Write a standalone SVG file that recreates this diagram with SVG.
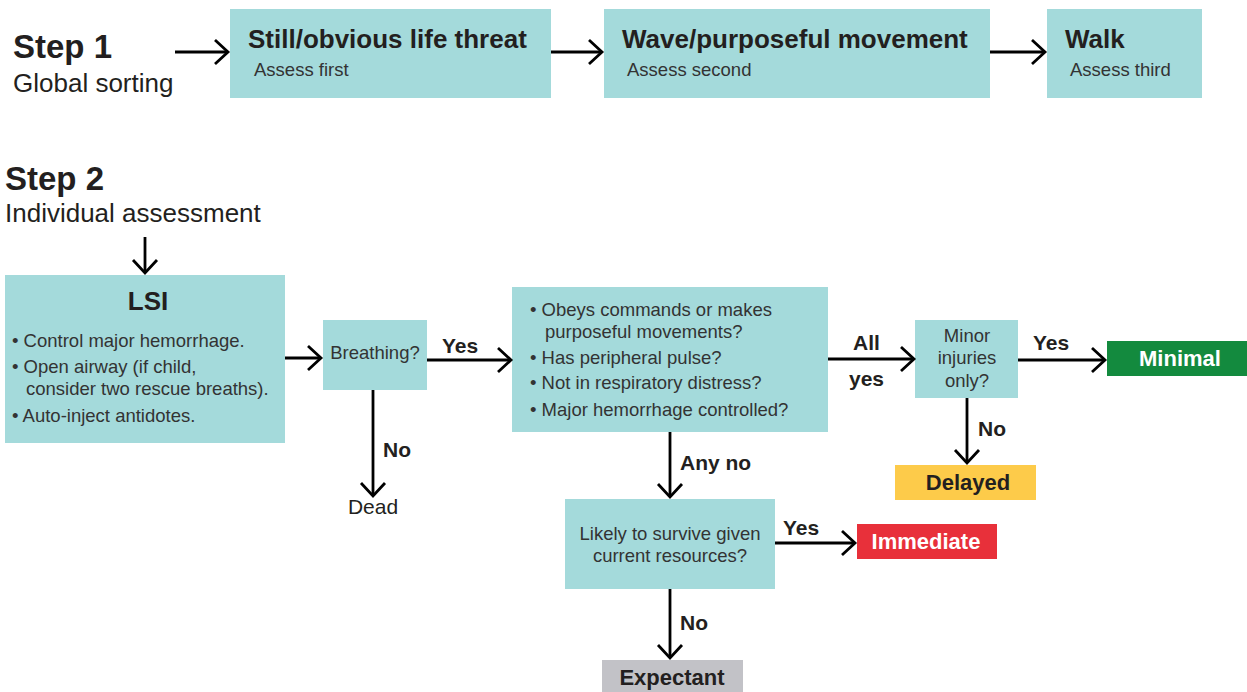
<svg xmlns="http://www.w3.org/2000/svg" width="1247" height="692" viewBox="0 0 1247 692">
<style>
.box{fill:#a4dadb}
.t{font-family:"Liberation Sans",Arial,sans-serif;fill:#231f20}
.h{font-size:26px;font-weight:bold}
.s{font-size:18.5px;fill:#333}
.step{font-size:33px;font-weight:bold}
.sub{font-size:26px}
.lbl{font-size:21px;font-weight:bold}
.out{font-size:22px;font-weight:bold}
.c{text-anchor:middle}
.ln{stroke:#000;stroke-width:2.8;fill:none;marker-end:url(#ah)}
</style>
<defs>
<marker id="ah" markerUnits="userSpaceOnUse" markerWidth="20" markerHeight="30" refX="15" refY="14" orient="auto">
<path d="M2,2 L15,14 L2,26" fill="none" stroke="#000" stroke-width="2.8"/>
</marker>
</defs>
<rect width="1247" height="692" fill="#fff"/>
<g id="step1-label">
<text class="t step" x="13" y="58">Step 1</text>
<text class="t sub" x="13" y="92">Global sorting</text>
</g>
<g id="still">
<rect class="box" x="230" y="9" width="321" height="89"/>
<text class="t h" x="248" y="48">Still/obvious life threat</text>
<text class="t s" x="254" y="76">Assess first</text>
</g>
<g id="wave">
<rect class="box" x="604" y="9" width="386" height="89"/>
<text class="t h" x="622" y="48">Wave/purposeful movement</text>
<text class="t s" x="627" y="76">Assess second</text>
</g>
<g id="walk">
<rect class="box" x="1047" y="9" width="155" height="89"/>
<text class="t h" x="1065" y="48">Walk</text>
<text class="t s" x="1070" y="76">Assess third</text>
</g>
<g id="step2-label">
<text class="t step" x="5" y="190">Step 2</text>
<text class="t sub" x="5" y="222">Individual assessment</text>
</g>
<g id="lsi">
<rect class="box" x="5" y="275" width="280" height="168"/>
<text class="t h c" x="148" y="310">LSI</text>
<text class="t s" x="12" y="347">• Control major hemorrhage.</text>
<text class="t s" x="12" y="373">• Open airway (if child,</text>
<text class="t s" x="26" y="395">consider two rescue breaths).</text>
<text class="t s" x="12" y="422">• Auto-inject antidotes.</text>
</g>
<g id="breathing">
<rect class="box" x="323" y="320" width="104" height="70"/>
<text class="t s c" x="375" y="359">Breathing?</text>
</g>
<g id="dead">
<text class="t c" style="font-size:21px" x="373" y="514">Dead</text>
</g>
<g id="obeys">
<rect class="box" x="512" y="287" width="316" height="145"/>
<text class="t s" x="530" y="316">• Obeys commands or makes</text>
<text class="t s" x="545" y="338">purposeful movements?</text>
<text class="t s" x="530" y="364">• Has peripheral pulse?</text>
<text class="t s" x="530" y="389">• Not in respiratory distress?</text>
<text class="t s" x="530" y="416">• Major hemorrhage controlled?</text>
</g>
<g id="minor">
<rect class="box" x="915" y="320" width="103" height="78"/>
<text class="t s c" x="967" y="342">Minor</text>
<text class="t s c" x="967" y="364">injuries</text>
<text class="t s c" x="967" y="387">only?</text>
</g>
<g id="minimal">
<rect x="1107" y="341" width="140" height="35" fill="#138a3e"/>
<text class="t out c" style="fill:#fff" x="1180" y="366">Minimal</text>
</g>
<g id="delayed">
<rect x="895" y="465" width="141" height="35" fill="#fdcb4a"/>
<text class="t out c" x="968" y="490">Delayed</text>
</g>
<g id="likely">
<rect class="box" x="565" y="499" width="210" height="90"/>
<text class="t s c" x="670" y="540">Likely to survive given</text>
<text class="t s c" x="670" y="562">current resources?</text>
</g>
<g id="immediate">
<rect x="857" y="524" width="140" height="35" fill="#e8303a"/>
<text class="t out c" style="fill:#fff" x="926" y="549">Immediate</text>
</g>
<g id="expectant">
<rect x="602" y="660" width="141" height="32" fill="#c2c2c7"/>
<text class="t out c" x="672" y="685">Expectant</text>
</g>
<g id="connectors">
<line class="ln" x1="175" y1="52" x2="228" y2="52"/>
<line class="ln" x1="551" y1="52" x2="602" y2="52"/>
<line class="ln" x1="990" y1="52" x2="1045" y2="52"/>
<line class="ln" x1="145" y1="237" x2="145" y2="273"/>
<line class="ln" x1="285" y1="358" x2="321" y2="358"/>
<line class="ln" x1="427" y1="360" x2="511" y2="360"/>
<line class="ln" x1="373" y1="390" x2="373" y2="496"/>
<line class="ln" x1="828" y1="359" x2="914" y2="359"/>
<line class="ln" x1="1018" y1="360" x2="1105" y2="360"/>
<line class="ln" x1="967" y1="398" x2="967" y2="463"/>
<line class="ln" x1="670" y1="432" x2="670" y2="497"/>
<line class="ln" x1="775" y1="543" x2="855" y2="543"/>
<line class="ln" x1="670" y1="589" x2="670" y2="658"/>
<text class="t lbl" x="442" y="353">Yes</text>
<text class="t lbl" x="383" y="457">No</text>
<text class="t lbl" x="853" y="350">All</text>
<text class="t lbl" x="849" y="386">yes</text>
<text class="t lbl" x="1033" y="350">Yes</text>
<text class="t lbl" x="978" y="436">No</text>
<text class="t lbl" x="680" y="470">Any no</text>
<text class="t lbl" x="783" y="535">Yes</text>
<text class="t lbl" x="680" y="630">No</text>
</g>
</svg>
